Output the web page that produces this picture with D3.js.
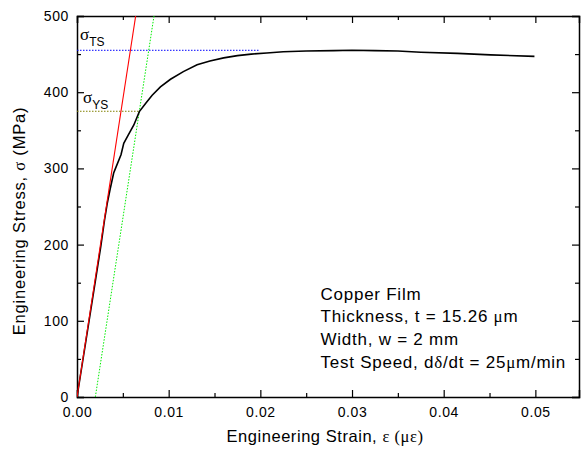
<!DOCTYPE html>
<html>
<head>
<meta charset="utf-8">
<script src="https://cdn.jsdelivr.net/npm/d3@7"></script>
<style>
  body { margin: 0; background: #fff; }
  svg { font-family: "Liberation Sans", Arial, sans-serif; }
  .axis path, .axis line { stroke: #000; }
  .axis path { stroke-width: 1.5; }
  .axis line { stroke-width: 1.2; }
  .axis text { font-size: 14px; fill: #000; letter-spacing: 0.6px; }
  .greek { font-family: "Liberation Serif", "Times New Roman", serif; }
</style>
</head>
<body>
<div id="chart"></div>
<script>
// measured curve (strain, stress in MPa)
var strain = [0, 0.0010, 0.0020, 0.0026, 0.0030, 0.0033, 0.0036, 0.0040, 0.0042, 0.0048, 0.0051,
  0.0056, 0.0062, 0.0068, 0.0075, 0.0082, 0.0091, 0.0102, 0.0116, 0.0131, 0.0145, 0.0160,
  0.0175, 0.0190, 0.0207, 0.0225, 0.0250, 0.0280, 0.0300, 0.0325, 0.0350, 0.0375, 0.0415, 0.0451, 0.0499];
var stress = [0, 76, 152, 198, 232, 254, 272, 294, 300, 318, 333,
  344, 357, 374.5, 385.5, 396, 407, 417, 427, 436, 441, 445,
  448, 450, 451.5, 453, 454, 454.5, 455, 454.5, 454, 452.5, 451, 449, 447];

// elastic fit and 0.2% offset line
var elasticX = [0, 0.0064];
var elasticY = [0, 500];
var offsetX = [0.002, 0.0084];
var offsetY = [0, 500];

// tensile and yield strength markers
var tsX = [0, 0.0198], tsY = [455, 455];
var ysX = [0, 0.0068], ysY = [375, 375];

var xMajor = [0, 0.01, 0.02, 0.03, 0.04, 0.05];
var xMinor = [0.005, 0.015, 0.025, 0.035, 0.045];
var yMajor = [0, 100, 200, 300, 400, 500];
var yMinor = [50, 150, 250, 350, 450];

var notes = ["Copper Film", "Thickness, t = 15.26 μm", "Width, w = 2 mm", "Test Speed, dδ/dt = 25μm/min"];

var w = 583, h = 455;
var mLeft = 77, mTop = 16, mRight = 579, mBottom = 397;

var x = d3.scaleLinear().domain([0, 0.05476]).range([mLeft, mRight]);
var y = d3.scaleLinear().domain([0, 500]).range([mBottom, mTop]);

var svg = d3.select("#chart").append("svg")
  .attr("width", w)
  .attr("height", h);

// clip for lines running off the top
svg.append("clipPath").attr("id", "plot")
  .append("rect")
  .attr("x", mLeft).attr("y", mTop)
  .attr("width", mRight - mLeft).attr("height", mBottom - mTop);

// axes (ticks point inward)
svg.append("g").attr("class", "axis")
  .attr("transform", "translate(0," + mBottom + ")")
  .call(d3.axisBottom(x).tickValues(xMajor).tickSize(-7).tickPadding(10).tickFormat(d3.format(".2f")));
svg.append("g").attr("class", "axis")
  .attr("transform", "translate(0," + mBottom + ")")
  .call(d3.axisBottom(x).tickValues(xMinor).tickSize(-4).tickFormat(""))
  .select(".domain").remove();
svg.append("g").attr("class", "axis")
  .attr("transform", "translate(0," + mTop + ")")
  .call(d3.axisTop(x).tickValues(xMajor).tickSize(-7).tickFormat(""));
svg.append("g").attr("class", "axis")
  .attr("transform", "translate(0," + mTop + ")")
  .call(d3.axisTop(x).tickValues(xMinor).tickSize(-4).tickFormat(""))
  .select(".domain").remove();

svg.append("g").attr("class", "axis")
  .attr("transform", "translate(" + mLeft + ",0)")
  .call(d3.axisLeft(y).tickValues(yMajor).tickSize(-7).tickPadding(8));
svg.append("g").attr("class", "axis")
  .attr("transform", "translate(" + mLeft + ",0)")
  .call(d3.axisLeft(y).tickValues(yMinor).tickSize(-4).tickFormat(""))
  .select(".domain").remove();
svg.append("g").attr("class", "axis")
  .attr("transform", "translate(" + mRight + ",0)")
  .call(d3.axisRight(y).tickValues(yMajor).tickSize(-7).tickFormat(""));
svg.append("g").attr("class", "axis")
  .attr("transform", "translate(" + mRight + ",0)")
  .call(d3.axisRight(y).tickValues(yMinor).tickSize(-4).tickFormat(""))
  .select(".domain").remove();

var line = d3.line()
  .x(function(d){ return x(d[0]); })
  .y(function(d){ return y(d[1]); });

var plot = svg.append("g").attr("clip-path", "url(#plot)");

function addLine(xs, ys, color, width, dash) {
  var p = plot.append("path")
    .datum(d3.zip(xs, ys))
    .attr("fill", "none")
    .attr("stroke", color)
    .attr("stroke-width", width)
    .attr("d", line);
  if (dash) p.attr("stroke-dasharray", dash);
}

addLine(tsX, tsY, "#0000ff", 1, "1.5,1.5");
addLine(ysX, ysY, "#808000", 1, "1.5,1.5");
addLine(offsetX, offsetY, "#00ee00", 1, "1.5,1.5");
addLine(strain, stress, "#000", 1.6);
addLine(elasticX, elasticY, "#ff0000", 1.1);

// sigma labels
function sigmaLabel(px, py, sub) {
  var t = svg.append("text").attr("x", px).attr("y", py).attr("font-size", "17px");
  t.append("tspan").attr("class", "greek").text("σ");
  t.append("tspan").attr("font-size", "12px").attr("dy", 6).text(sub);
}
sigmaLabel(80, 40, "TS");
sigmaLabel(83, 103, "YS");

// notes
svg.append("g").selectAll("text")
  .data(notes)
  .enter()
  .append("text")
  .attr("x", 320.5)
  .attr("y", function(d, i){ return 299.5 + i * 22.7; })
  .attr("font-size", "17px")
  .attr("letter-spacing", "0.75px")
  .each(function(d){
    var t = d3.select(this);
    d.split(/([δμ])/).forEach(function(s){
      if (!s) return;
      var sp = t.append("tspan").text(s);
      if (s === "δ" || s === "μ") sp.attr("class", "greek");
    });
  });

// axis titles
var xt = svg.append("text")
  .attr("x", 325)
  .attr("y", 442)
  .attr("text-anchor", "middle")
  .attr("font-size", "16.5px")
  .attr("letter-spacing", "0.55px");
xt.append("tspan").text("Engineering Strain, ");
xt.append("tspan").attr("class", "greek").text("ε (με)");

var yt = svg.append("text")
  .attr("transform", "translate(25,221) rotate(-90)")
  .attr("text-anchor", "middle")
  .attr("font-size", "16.5px")
  .attr("letter-spacing", "0.8px");
yt.append("tspan").text("Engineering Stress, ");
yt.append("tspan").attr("class", "greek").text("σ");
yt.append("tspan").text(" (MPa)");
</script>
</body>
</html>
